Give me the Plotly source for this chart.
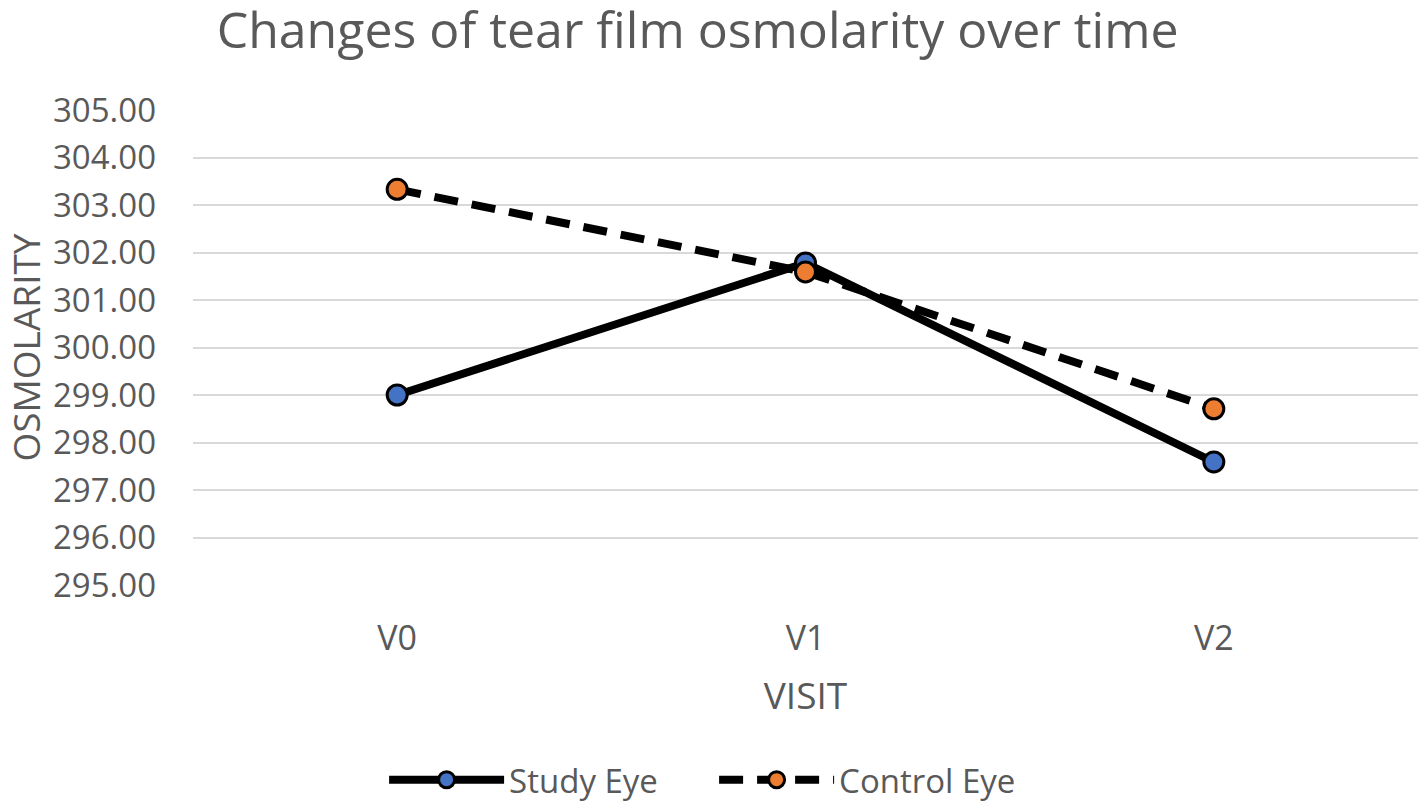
import plotly.graph_objects as go

visits = ["V0", "V1", "V2"]
study_eye = [299.00, 301.78, 297.59]
control_eye = [303.33, 301.59, 298.71]
y_ticks = [295, 296, 297, 298, 299, 300, 301, 302, 303, 304, 305]

FONT = "Open Sans"
GREY = "#595959"

fig = go.Figure()
fig.add_trace(go.Scatter(
    x=visits, y=study_eye, name="Study Eye", mode="lines+markers",
    line=dict(color="black", width=8),
    marker=dict(size=20, color="#4472C4", line=dict(color="black", width=3)),
))
fig.add_trace(go.Scatter(
    x=visits, y=control_eye, name="Control Eye", mode="lines+markers",
    line=dict(color="black", width=8, dash="24px,14px"),
    marker=dict(size=20, color="#ED7D31", line=dict(color="black", width=3)),
))

fig.update_layout(
    width=1418, height=802,
    margin=dict(l=193, r=0, t=110, b=217, autoexpand=False),
    paper_bgcolor="white", plot_bgcolor="white",
    font=dict(family=FONT, color=GREY),
    title=dict(text="Changes of tear film osmolarity over time", x=0.492, xanchor="center",
               y=0.962, yanchor="middle", font=dict(size=50, color=GREY, family=FONT)),
    xaxis=dict(type="category", range=[-0.5, 2.5], showgrid=False, zeroline=False,
               showline=False, ticks="", tickfont=dict(size=34, color=GREY),
               ticklabelstandoff=30, automargin=False,
               title=dict(text="VISIT", font=dict(size=37, color=GREY), standoff=24)),
    yaxis=dict(range=[295, 305], tickvals=y_ticks, tickformat=".2f",
               showgrid=True, gridcolor="#D9D9D9", gridwidth=2, zeroline=False,
               showline=False, ticks="", tickfont=dict(size=33, color=GREY),
               ticklabelstandoff=36, automargin=False,
               title=dict(text="OSMOLARITY", font=dict(size=37, color=GREY), standoff=36)),
    legend=dict(orientation="h", x=0.156, xanchor="left", y=-0.41, yanchor="middle",
                font=dict(size=33, color=GREY), itemwidth=115, entrywidth=200,
                traceorder="normal"),
)

fig.write_html("out.html", config={"displayModeBar": False},
               post_script="document.body.style.margin='0';document.body.style.overflow='hidden';")
